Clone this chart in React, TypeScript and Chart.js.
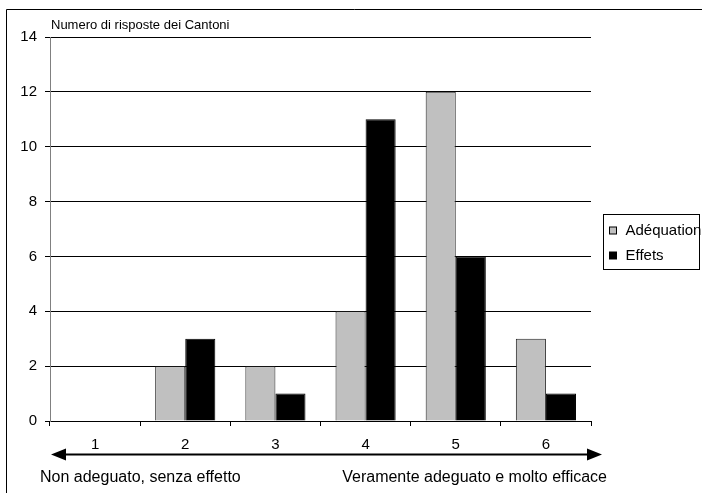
import React, { useEffect, useRef } from "react";
import { Chart, registerables } from "chart.js";

Chart.register(...registerables);

const categories = ["1", "2", "3", "4", "5", "6"];
const adequationValues = [0, 2, 2, 4, 12, 3];
const effetsValues = [0, 3, 1, 11, 6, 1];
const seriesLabels = ["Adéquation", "Effets"];
const seriesColors = ["#C0C0C0", "#000000"];
const yAxisTitle = "Numero di risposte dei Cantoni";
const leftScaleLabel = "Non adeguato, senza effetto";
const rightScaleLabel = "Veramente adeguato e molto efficace";

const FONT = "'Liberation Sans', Arial, sans-serif";

const decorations = {
  id: "decorations",
  afterDraw(chart: any) {
    const ctx = chart.ctx as CanvasRenderingContext2D;
    const area = chart.chartArea;
    ctx.save();

    // outer frame (top and left edges)
    ctx.strokeStyle = "#000";
    ctx.lineWidth = 1;
    ctx.beginPath();
    ctx.moveTo(6.5, 493);
    ctx.lineTo(6.5, 9.5);
    ctx.lineTo(702, 9.5);
    ctx.stroke();

    // value axis title
    ctx.fillStyle = "#000";
    ctx.font = `13px ${FONT}`;
    ctx.textBaseline = "alphabetic";
    ctx.textAlign = "left";
    ctx.fillText(yAxisTitle, area.left + 1, 29);

    // double-headed arrow below the categories
    const ay = 454.5;
    const x0 = area.left + 1;
    const x1 = area.right + 11;
    ctx.lineWidth = 2;
    ctx.beginPath();
    ctx.moveTo(x0 + 10, ay);
    ctx.lineTo(x1 - 10, ay);
    ctx.stroke();
    ctx.beginPath();
    ctx.moveTo(x0, ay);
    ctx.lineTo(x0 + 15, ay - 6);
    ctx.lineTo(x0 + 15, ay + 6);
    ctx.closePath();
    ctx.fill();
    ctx.beginPath();
    ctx.moveTo(x1, ay);
    ctx.lineTo(x1 - 15, ay - 6);
    ctx.lineTo(x1 - 15, ay + 6);
    ctx.closePath();
    ctx.fill();

    // scale end labels
    ctx.font = `16px ${FONT}`;
    ctx.textAlign = "left";
    ctx.fillText(leftScaleLabel, 40, 482);
    ctx.textAlign = "right";
    ctx.fillText(rightScaleLabel, 607, 482);

    // legend
    const lx = 603.5;
    const ly = 214.5;
    ctx.lineWidth = 1;
    ctx.strokeStyle = "#000";
    ctx.fillStyle = "#fff";
    ctx.fillRect(lx, ly, 96, 55);
    ctx.strokeRect(lx, ly, 96, 55);
    ctx.font = `15px ${FONT}`;
    ctx.textAlign = "left";
    ctx.textBaseline = "middle";
    seriesLabels.forEach((label, i) => {
      const cy = ly + 16 + i * 25;
      ctx.fillStyle = seriesColors[i];
      ctx.fillRect(lx + 6, cy - 3.5, 7, 7);
      ctx.strokeStyle = "#000";
      ctx.strokeRect(lx + 6, cy - 3.5, 7, 7);
      ctx.fillStyle = "#000";
      ctx.fillText(label, lx + 22, cy);
    });

    ctx.restore();
  },
};

export default function App() {
  const canvasRef = useRef<HTMLCanvasElement | null>(null);

  useEffect(() => {
    document.body.style.margin = "0";
    const canvas = canvasRef.current;
    if (!canvas) return;
    const chart = new Chart(canvas, {
      type: "bar",
      data: {
        labels: categories,
        datasets: [
          {
            label: seriesLabels[0],
            data: adequationValues,
            backgroundColor: seriesColors[0],
            borderColor: "#222",
            borderWidth: 1,
            categoryPercentage: 0.667,
            barPercentage: 1,
          },
          {
            label: seriesLabels[1],
            data: effetsValues,
            backgroundColor: seriesColors[1],
            borderColor: "#000",
            borderWidth: 1,
            categoryPercentage: 0.667,
            barPercentage: 1,
          },
        ],
      },
      options: {
        responsive: false,
        animation: false,
        devicePixelRatio: 1,
        layout: { padding: { left: 0, right: 111, top: 37, bottom: 0 } },
        plugins: {
          legend: { display: false },
          tooltip: { enabled: false },
        },
        scales: {
          x: {
            grid: {
              display: true,
              drawOnChartArea: false,
              drawTicks: true,
              tickLength: 5,
              color: "#000",
              offset: true,
            },
            border: { color: "#000", width: 1 },
            ticks: {
              color: "#000",
              font: { family: FONT, size: 15 },
              padding: 10,
            },
            afterFit(scale: any) {
              scale.height = 72;
            },
          },
          y: {
            min: 0,
            max: 14,
            ticks: {
              stepSize: 2,
              color: "#000",
              font: { family: FONT, size: 15 },
              padding: 8,
            },
            grid: {
              color: "#000",
              lineWidth: 1,
              tickLength: 5,
              drawTicks: true,
            },
            border: { color: "#808080", width: 1 },
            afterFit(scale: any) {
              scale.width = 50;
            },
          },
        },
      },
      plugins: [decorations],
    });
    return () => chart.destroy();
  }, []);

  return (
    <div style={{ width: 702, height: 493, background: "#fff" }}>
      <canvas ref={canvasRef} width={702} height={493} style={{ display: "block" }} />
    </div>
  );
}
